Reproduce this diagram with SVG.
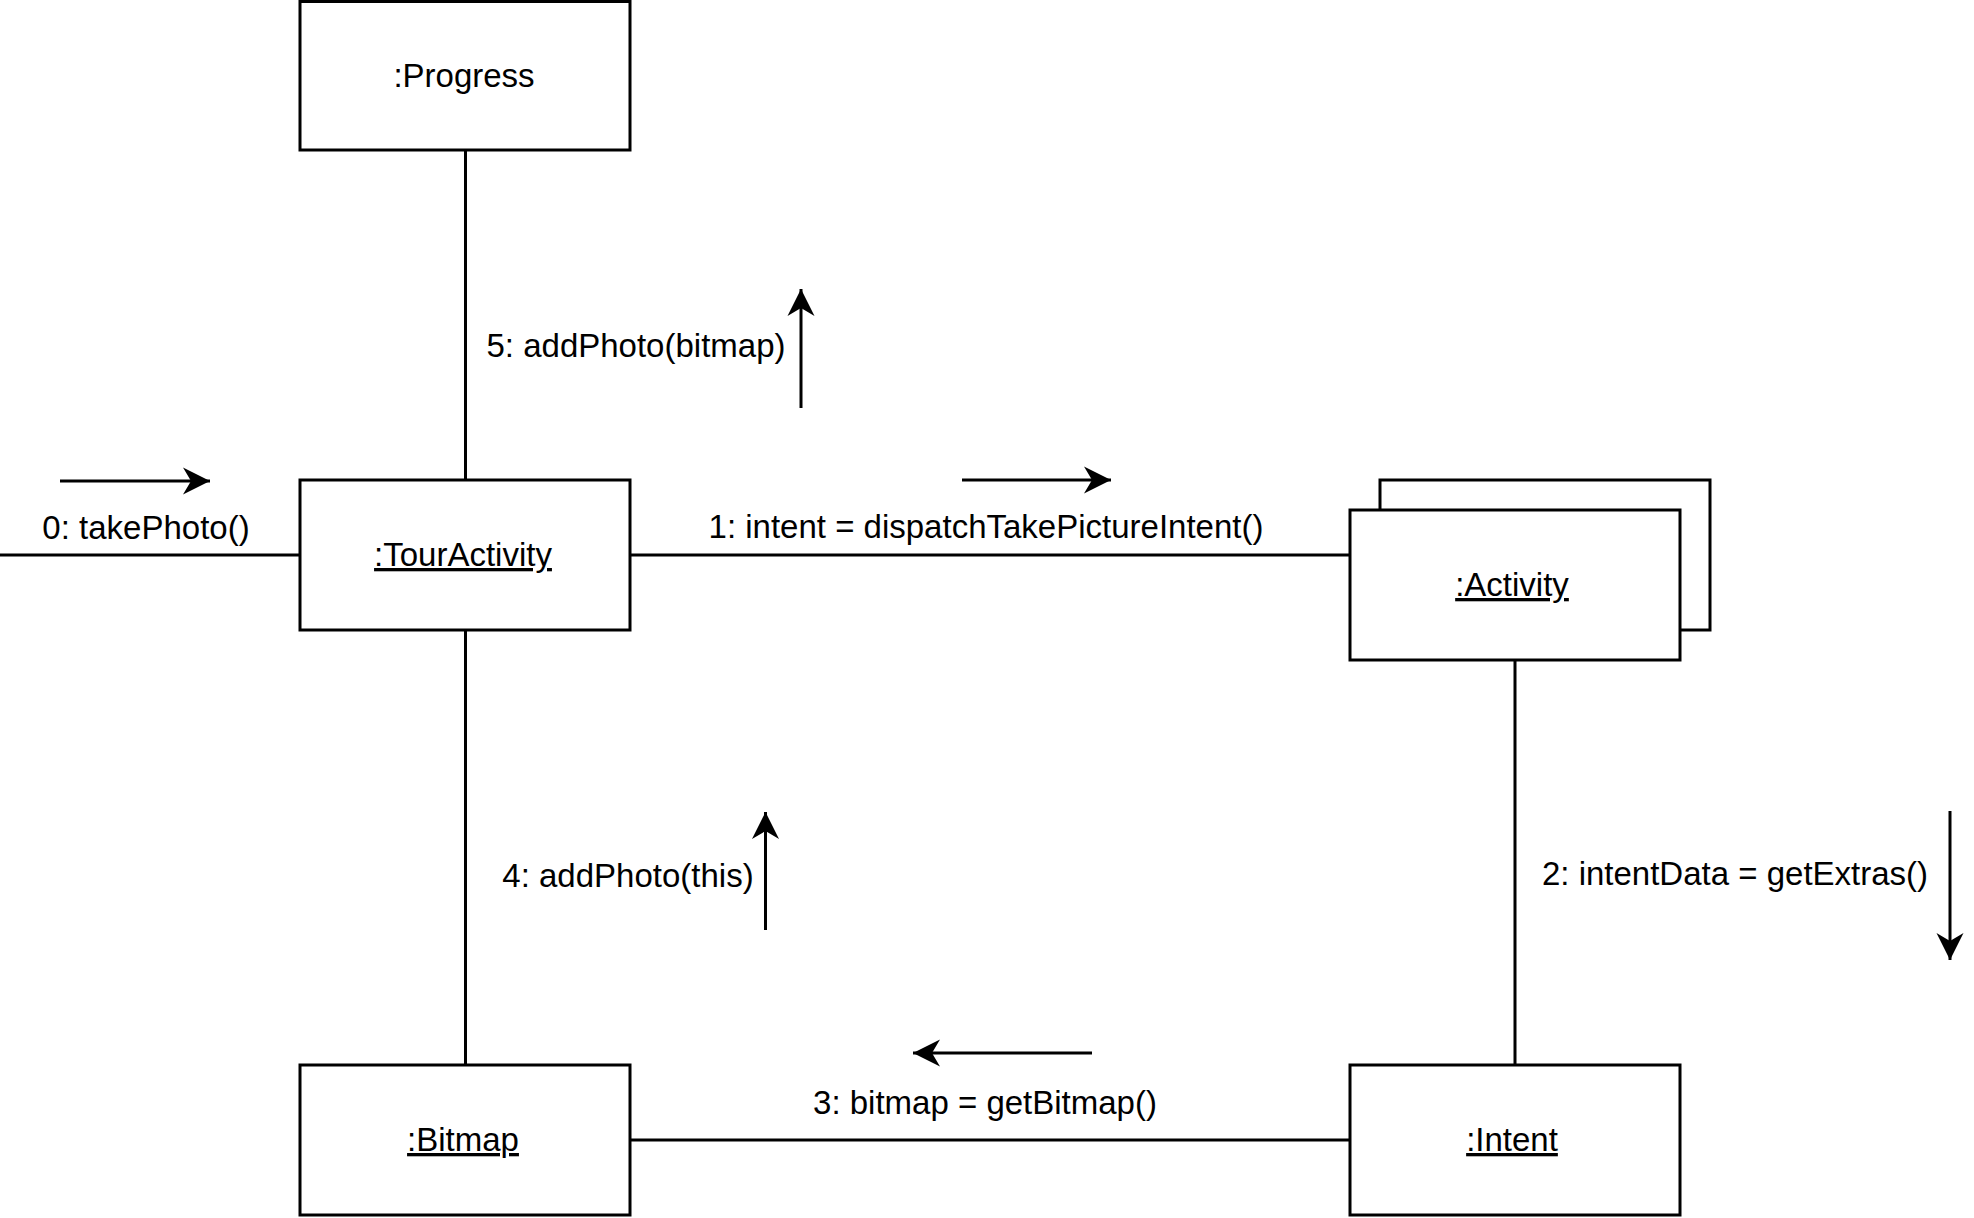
<svg xmlns="http://www.w3.org/2000/svg" width="1974" height="1218" viewBox="0 0 1974 1218">
<style>
.box{fill:#fff;stroke:#000;stroke-width:3}
.ln{fill:none;stroke:#000;stroke-width:3}
.t{font-family:"Liberation Sans",Arial,Helvetica,sans-serif;font-size:33px;fill:#000;text-anchor:middle}
.u{text-decoration:underline}
</style>
<defs>
<marker id="ah" markerUnits="userSpaceOnUse" markerWidth="30" markerHeight="30" viewBox="-28 -15 30 30" refX="0" refY="0" orient="auto">
<path d="M0,0 L-27,-13.5 L-19,0 L-27,13.5 Z" fill="#000"/>
</marker>
</defs>
<rect width="1974" height="1218" fill="#fff"/>
<g id="connectors">
<line class="ln" x1="0" y1="555" x2="300" y2="555"/>
<line class="ln" x1="465.5" y1="150" x2="465.5" y2="480"/>
<line class="ln" x1="465.5" y1="630" x2="465.5" y2="1065"/>
<line class="ln" x1="630" y1="555" x2="1350" y2="555"/>
<line class="ln" x1="630" y1="1140" x2="1350" y2="1140"/>
<line class="ln" x1="1515" y1="660" x2="1515" y2="1065"/>
</g>
<g id="messages">
<line class="ln" x1="60" y1="481" x2="210" y2="481" marker-end="url(#ah)"/>
<text class="t" x="146" y="539">0: takePhoto()</text>
<line class="ln" x1="962" y1="480" x2="1111" y2="480" marker-end="url(#ah)"/>
<text class="t" x="986" y="538">1: intent = dispatchTakePictureIntent()</text>
<line class="ln" x1="1950" y1="811" x2="1950" y2="960" marker-end="url(#ah)"/>
<text class="t" x="1735" y="885">2: intentData = getExtras()</text>
<line class="ln" x1="1092" y1="1053" x2="913" y2="1053" marker-end="url(#ah)"/>
<text class="t" x="985" y="1114">3: bitmap = getBitmap()</text>
<line class="ln" x1="765.5" y1="930" x2="765.5" y2="812" marker-end="url(#ah)"/>
<text class="t" x="628" y="887">4: addPhoto(this)</text>
<line class="ln" x1="801" y1="408" x2="801" y2="289" marker-end="url(#ah)"/>
<text class="t" x="636" y="357">5: addPhoto(bitmap)</text>
</g>
<g id="progress">
<rect class="box" x="300" y="1.5" width="330" height="148.5"/>
<text class="t" x="464" y="87">:Progress</text>
</g>
<g id="tourActivity">
<rect class="box" x="300" y="480" width="330" height="150"/>
<text class="t u" x="463" y="566">:TourActivity</text>
</g>
<g id="activity">
<rect class="box" x="1380" y="480" width="330" height="150"/>
<rect class="box" x="1350" y="510" width="330" height="150"/>
<text class="t u" x="1512" y="596">:Activity</text>
</g>
<g id="bitmap">
<rect class="box" x="300" y="1065" width="330" height="150"/>
<text class="t u" x="463" y="1151">:Bitmap</text>
</g>
<g id="intent">
<rect class="box" x="1350" y="1065" width="330" height="150"/>
<text class="t u" x="1512" y="1151">:Intent</text>
</g>
</svg>
